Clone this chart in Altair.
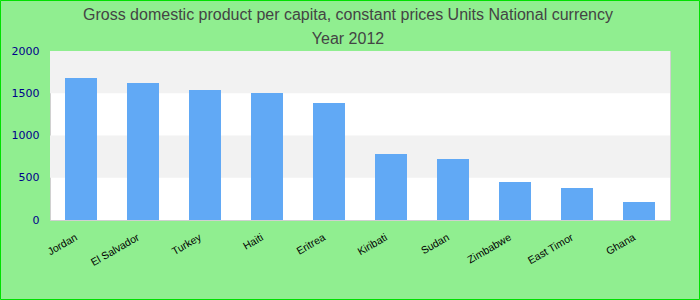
import altair as alt
import pandas as pd

countries = ["Jordan", "El Salvador", "Turkey", "Haiti", "Eritrea",
             "Kiribati", "Sudan", "Zimbabwe", "East Timor", "Ghana"]
values = [1680, 1621, 1538, 1503, 1385, 781, 722, 450, 379, 213]
band_starts = [500, 1500]
band_ends = [1000, 2000]
y_ticks = [0, 500, 1000, 1500, 2000]
title_lines = ["Gross domestic product per capita, constant prices Units National currency",
               "Year 2012"]

df = pd.DataFrame({"country": countries, "value": values})
bands = pd.DataFrame({"y": band_starts, "y2": band_ends})

W, H = 620, 169
yscale = alt.Scale(domain=[0, 2000], nice=False, zero=True)
xscale = alt.Scale(paddingInner=0.484, paddingOuter=0.242)

yaxis = alt.Axis(title=None, values=y_ticks, format="d", ticks=False, domain=False, grid=False,
                 labelFont="DejaVu Sans", labelFontSize=11, labelColor="#00008b",
                 labelPadding=11)

stripes = alt.Chart(bands).mark_rect(color="#f2f2f2").encode(
    x=alt.value(0), x2=alt.value(W),
    y=alt.Y("y:Q", scale=yscale, axis=yaxis),
    y2="y2:Q",
)

bars = alt.Chart(df).mark_bar(color="#61a9f5").encode(
    x=alt.X("country:N", sort=countries, scale=xscale,
            axis=alt.Axis(title=None, labelAngle=-30, labelAlign="right", labelBaseline="top",
                          labelPadding=12, labelOffset=-7, ticks=False, domain=False,
                          labelFont="Liberation Sans", labelFontSize=10.5, labelColor="#000000",
                          grid=False)),
    y=alt.Y("value:Q", scale=yscale, axis=yaxis),
)

outer = alt.Chart(pd.DataFrame({"a": [0]})).mark_rect(
    fill="transparent", stroke="#00e000", strokeWidth=1
).encode(
    x=alt.value(-49.5), x2=alt.value(649.5),
    y=alt.value(-50.5), y2=alt.value(248.5),
)

chart = alt.layer(stripes, bars, outer).properties(
    width=W, height=H,
    padding={"left": 50, "top": 51, "right": 30, "bottom": 80},
    autosize=alt.AutoSizeParams(type="none"),
    background="#90ee90",
    title=alt.TitleParams(title_lines, fontSize=16, font="Liberation Sans", color="#444444",
                          fontWeight="normal", anchor="middle", lineHeight=24, offset=0,
                          dy=47, dx=-12),
).configure_view(fill="white", stroke="#d0d0d0", strokeWidth=1)

chart.save("out.html", embed_options={"renderer": "svg", "actions": False})
